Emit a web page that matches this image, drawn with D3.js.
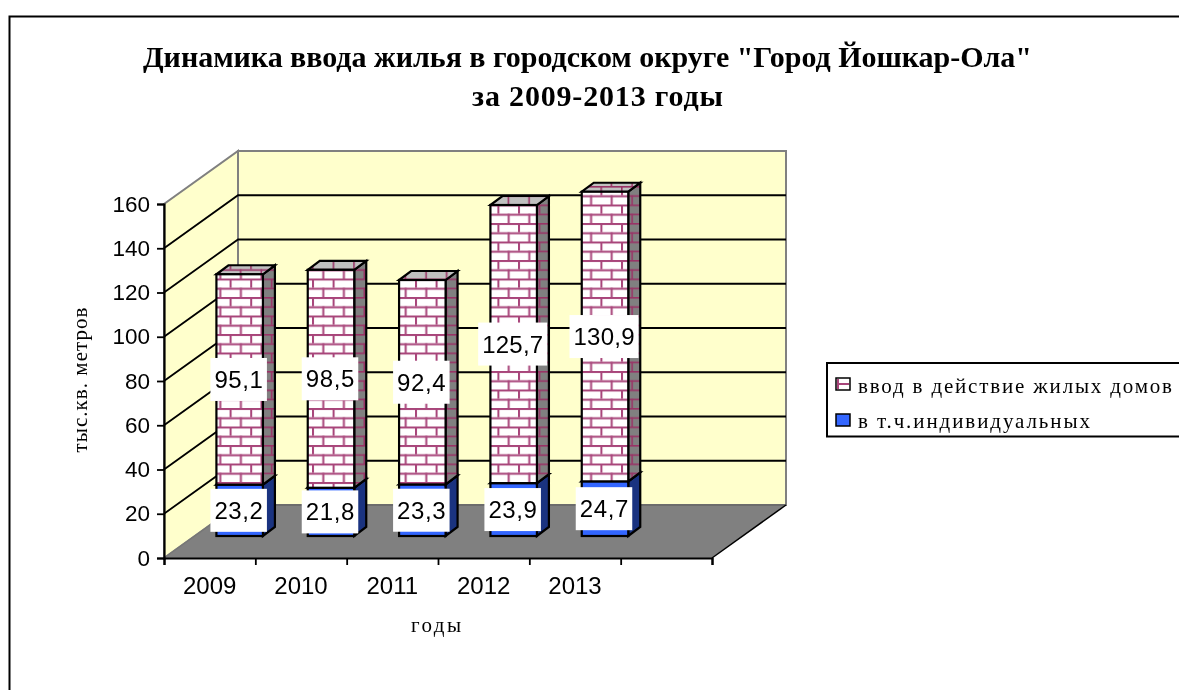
<!DOCTYPE html>
<html><head><meta charset="utf-8">
<script src="https://cdn.jsdelivr.net/npm/d3@7/dist/d3.min.js"></script>
<style>html,body{margin:0;padding:0;background:#fff}svg{display:block;filter:blur(.3px)}</style>
</head><body><svg id="c" width="1179" height="690"></svg>
<script>
const categories = ["2009","2010","2011","2012","2013"];
const individual = [23.2,21.8,23.3,23.9,24.7];
const housing = [95.1,98.5,92.4,125.7,130.9];
const yTicks = [0,20,40,60,80,100,120,140,160];
const seriesNames = ["ввод в действие жилых домов","в т.ч.индивидуальных"];
const titleLines = ['Динамика ввода жилья в городском округе "Город Йошкар-Ола"','за 2009-2013 годы'];

const svg = d3.select("#c");
const serif = "'Liberation Serif','Times New Roman',serif", sans = "'Liberation Sans',Arial,sans-serif";
const y0 = 558, yTop = 204, xL = 164, xR = 712, depthX = 74, depthY = 53;
const y = d3.scaleLinear().domain([0,160]).range([y0,yTop]);
const x = d3.scaleBand().domain([...categories,""]).range([xL,xR]);
const poly = pts => pts.map(p=>p.join(",")).join(" ");

// brick patterns
const defs = svg.append("defs");
function brick(id,bg,mortar,m){
  const W=20.6,H=18.5;
  const p=defs.append("pattern").attr("id",id).attr("patternUnits","userSpaceOnUse")
    .attr("width",W).attr("height",H).attr("x",3).attr("y",1);
  p.append("rect").attr("width",W).attr("height",H).attr("fill",bg);
  p.append("rect").attr("y",0).attr("width",W).attr("height",m).attr("fill",mortar);
  p.append("rect").attr("y",H/2).attr("width",W).attr("height",m).attr("fill",mortar);
  p.append("rect").attr("x",0).attr("y",0).attr("width",m).attr("height",H/2).attr("fill",mortar);
  p.append("rect").attr("x",W/2).attr("y",H/2).attr("width",m).attr("height",H/2).attr("fill",mortar);
}
brick("bFront","#fff","#a8457a",2);
brick("bSide","#808080","#993366",1.6);
brick("bTop","#c0c0c0","#993366",1.6);

// chart frame
svg.append("path").attr("d",`M9.5 690V16.5H1179`).attr("fill","none").attr("stroke","#000").attr("stroke-width",2);

// walls and floor
const wall="#ffffcc", edge="#808080";
svg.append("polygon").attr("points",poly([[xL,y(0)],[xL,y(160)],[xL+depthX,y(160)-depthY],[xL+depthX,y(0)-depthY]])).attr("fill",wall).attr("stroke",edge).attr("stroke-width",2);
svg.append("polygon").attr("points",poly([[xL+depthX,y(160)-depthY],[xR+depthX,y(160)-depthY],[xR+depthX,y(0)-depthY],[xL+depthX,y(0)-depthY]])).attr("fill",wall).attr("stroke",edge).attr("stroke-width",2);
svg.append("polygon").attr("points",poly([[xL,y(0)],[xR,y(0)],[xR+depthX,y(0)-depthY],[xL+depthX,y(0)-depthY]])).attr("fill","#808080");
svg.append("line").attr("x1",xL+depthX).attr("y1",y(0)-depthY).attr("x2",xR+depthX).attr("y2",y(0)-depthY).attr("stroke","#666").attr("stroke-width",1.5);
svg.append("line").attr("x1",xR).attr("y1",y(0)).attr("x2",xR+depthX).attr("y2",y(0)-depthY).attr("stroke","#000").attr("stroke-width",1.5);
svg.append("line").attr("x1",xL).attr("y1",y(0)).attr("x2",xL+depthX).attr("y2",y(0)-depthY).attr("stroke","#777").attr("stroke-width",1.5);

// gridlines
yTicks.filter(t=>t>0 && t<160).forEach(t=>{
  svg.append("path").attr("d",`M${xL} ${y(t)}L${xL+depthX} ${y(t)-depthY}H${xR+depthX}`).attr("fill","none").attr("stroke","#000").attr("stroke-width",1.8);
});

// axes
const yAxis = d3.axisLeft(y).tickValues(yTicks).tickSize(7).tickPadding(7);
const gy = svg.append("g").attr("transform",`translate(${xL},0)`).call(yAxis);
gy.select(".domain").attr("stroke-width",2.2).attr("stroke","#000");
gy.selectAll("line").attr("stroke-width",1.8);
gy.selectAll("text").attr("font-family",sans).attr("font-size",22.5).attr("fill","#000");

const edges = [...x.domain().map(d=>x(d)),xR];
const ln = d3.scaleLinear().domain([xL,xR]).range([xL,xR]);
const xAxis = d3.axisBottom(ln).tickValues(edges).tickSize(7).tickFormat("");
const gx = svg.append("g").attr("transform",`translate(0,${y0})`).call(xAxis);
gx.select(".domain").attr("stroke-width",2.2).attr("stroke","#000");
gx.selectAll("line").attr("stroke-width",1.8);
svg.append("g").selectAll("text").data(categories).join("text")
  .attr("x",d=>x(d)+x.bandwidth()/2).attr("y",594).attr("text-anchor","middle")
  .attr("font-family",sans).attr("font-size",24).attr("fill","#000").text(d=>d);

// bars
const barW = 46.5, dx = 12, dy = 9, shiftX = 30, shiftY = 22;
const segs = [
  {vals:individual, start:()=>0, front:"#3366ff", side:"#1a3380", top:"#1a3380"},
  {vals:housing, start:i=>individual[i], front:"url(#bFront)", side:"url(#bSide)", top:"url(#bTop)"}
];
const barX = c => x(c)+x.bandwidth()/2+shiftX-barW/2;
const gb = svg.append("g").attr("stroke","#000").attr("stroke-width",2.2).attr("stroke-linejoin","miter");
segs.forEach(s=>{
  categories.forEach((c,i)=>{
    const a=barX(c), b=a+barW, yb=y(s.start(i))-shiftY, yt=y(s.start(i)+s.vals[i])-shiftY;
    gb.append("polygon").attr("points",poly([[b,yb],[b,yt],[b+dx,yt-dy],[b+dx,yb-dy]])).attr("fill",s.side);
    gb.append("polygon").attr("points",poly([[a,yt],[b,yt],[b+dx,yt-dy],[a+dx,yt-dy]])).attr("fill",s.top);
    gb.append("rect").attr("x",a).attr("y",yt).attr("width",barW).attr("height",yb-yt).attr("fill",s.front);
  });
});

// data labels
const fmt = v => String(v.toFixed(1)).replace(".",",");
const gl = svg.append("g");
segs.forEach(s=>{
  categories.forEach((c,i)=>{
    const v=s.vals[i], txt=fmt(v);
    const cx=barX(c)+barW/2-1;
    const cy=(y(s.start(i))+y(s.start(i)+v))/2-shiftY;
    const tw= txt.length===4?48.5:61;
    const bw= tw+8, bh=43;
    gl.append("rect").attr("x",cx-bw/2).attr("y",cy-bh/2).attr("width",bw).attr("height",bh).attr("fill","#fff");
    gl.append("text").attr("x",cx-tw/2).attr("y",cy+8.5).attr("font-family",sans).attr("font-size",24).attr("fill","#000")
      .attr("textLength",tw).attr("lengthAdjust","spacing").text(txt);
  });
});

// titles
svg.append("text").attr("x",143).attr("y",67).attr("font-family",serif).attr("font-weight","bold").attr("font-size",30).attr("textLength",889).attr("fill","#000").text(titleLines[0]);
svg.append("text").attr("x",472).attr("y",106).attr("font-family",serif).attr("font-weight","bold").attr("font-size",30).attr("textLength",251).attr("fill","#000").text(titleLines[1]);
svg.append("text").attr("transform","translate(87,380) rotate(-90)").attr("x",-72.5).attr("font-family",serif).attr("font-size",21).attr("textLength",145).attr("fill","#000").text("тыс.кв. метров");
svg.append("text").attr("x",411).attr("y",632).attr("font-family",serif).attr("font-size",21).attr("textLength",50).attr("fill","#000").text("годы");

// legend
svg.append("path").attr("d","M1179 363H827V436.5H1179").attr("fill","none").attr("stroke","#000").attr("stroke-width",2);
svg.append("rect").attr("x",836).attr("y",378).attr("width",14).attr("height",12).attr("fill","#fff").attr("stroke","#000").attr("stroke-width",1.5);
svg.append("rect").attr("x",837).attr("y",383).attr("width",12).attr("height",2).attr("fill","#a8457a");
svg.append("rect").attr("x",837).attr("y",379).attr("width",2).attr("height",10).attr("fill","#a8457a");
svg.append("rect").attr("x",836).attr("y",414).attr("width",14).attr("height",12).attr("fill","#3366ff").attr("stroke","#000").attr("stroke-width",1.5);
svg.append("text").attr("x",858).attr("y",393).attr("font-family",serif).attr("font-size",21).attr("textLength",314).attr("fill","#000").text(seriesNames[0]);
svg.append("text").attr("x",858).attr("y",428).attr("font-family",serif).attr("font-size",21).attr("textLength",232).attr("fill","#000").text(seriesNames[1]);
</script></body></html>
